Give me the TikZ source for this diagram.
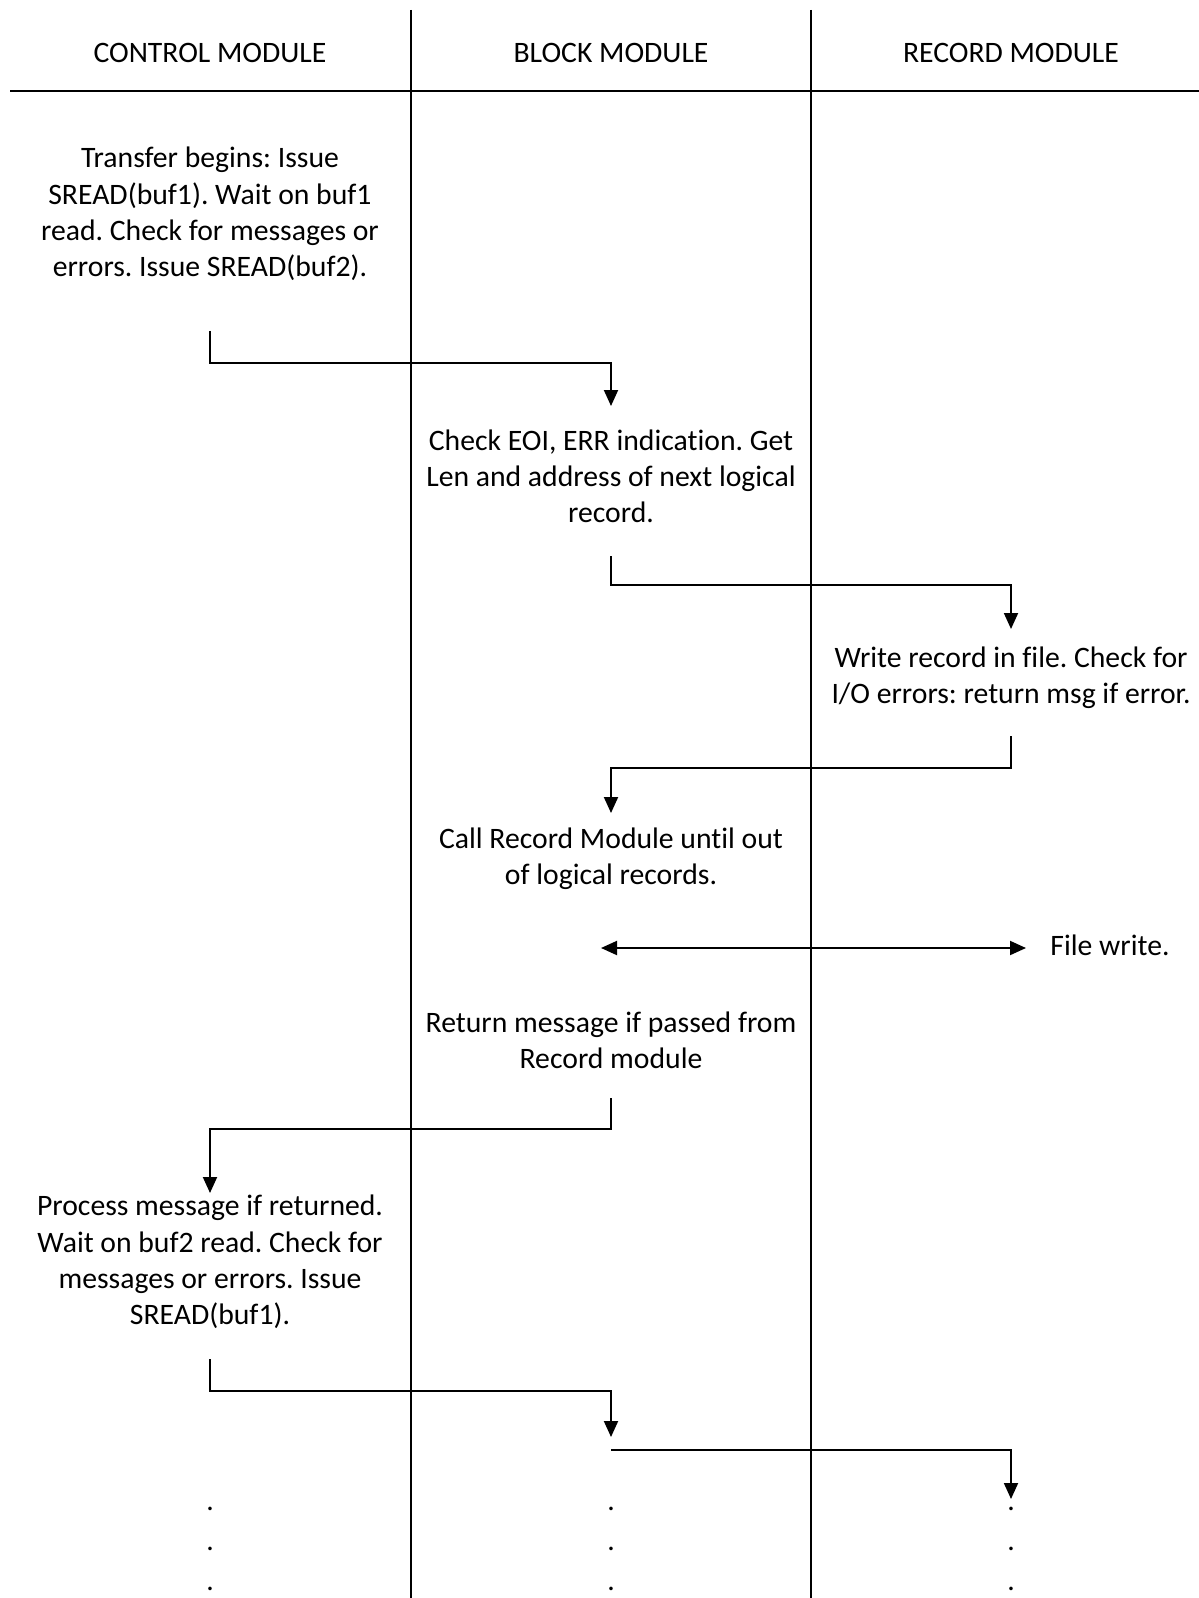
\documentclass[tikz,border=0pt]{standalone}
\usepackage{fontspec}
\setmainfont[Ligatures=NoCommon]{Carlito}
\usetikzlibrary{arrows.meta}
\frenchspacing
\tikzset{
	lane/.style={line width=0.8pt},
	flow/.style={line width=1.1pt, -{Triangle[length=0.32cm, width=0.28cm]}},
	both/.style={line width=1.1pt, {Triangle[length=0.32cm, width=0.28cm]}-{Triangle[length=0.32cm, width=0.28cm]}},
	txt/.style={align=center, inner sep=0pt, font=\fontsize{16.9}{20.6}\selectfont},
	dot/.style={inner sep=0pt, anchor=base, font=\fontsize{16.9}{20.6}\selectfont}
}

\begin{document}
\begin{tikzpicture}[x=0.02cm, y=-0.02cm]
			%%%%% START %%%%%
			\useasboundingbox (0, 0) rectangle (1199, 1598);
			
			% lanes
			\draw[lane] (411, 10) -- (411, 1598);
			\draw[lane] (811, 10) -- (811, 1598);
			\draw[line width=1.1pt] (10, 91) -- (1199, 91);
			
			\node[txt] (hctl) at (210, 53) {CONTROL MODULE};
			\node[txt] (hblk) at (611, 53) {BLOCK MODULE};
			\node[txt] (hrec) at (1011, 53) {RECORD MODULE};
			
			% steps
			\node[txt] (ctl1) at (210, 214) {Transfer begins: Issue\\SREAD(buf1). Wait on buf1\\read. Check for messages or\\errors. Issue SREAD(buf2).};
			\node[txt] (blk1) at (611, 476) {Check EOI, ERR indication. Get\\Len and address of next logical\\record.};
			\node[txt] (rec1) at (1011, 678) {Write record in file. Check for\\I/O errors: return msg if error.};
			\node[txt] (blk2) at (611, 859) {Call Record Module until out\\of logical records.};
			\node[txt] (wrt) at (1110, 945) {File write.};
			\node[txt] (blk3) at (611, 1040) {Return message if passed from\\Record module};
			\node[txt] (ctl2) at (210, 1262) {Process message if returned.\\Wait on buf2 read. Check for\\messages or errors. Issue\\SREAD(buf1).};
			
			% arrow ends
			\coordinate (ctl1out) at (210, 331);
			\coordinate (blk1in) at (611, 406);
			\coordinate (blk1out) at (611, 556);
			\coordinate (rec1in) at (1011, 629);
			\coordinate (rec1out) at (1011, 736);
			\coordinate (blk2in) at (611, 813);
			\coordinate (wl) at (601, 948);
			\coordinate (wr) at (1026, 948);
			\coordinate (blk3out) at (611, 1098);
			\coordinate (ctl2in) at (210, 1193);
			\coordinate (ctl2out) at (210, 1359);
			\coordinate (blk4in) at (611, 1437);
			\coordinate (blk4out) at (611, 1450);
			\coordinate (rec4in) at (1011, 1499);
			
			\draw[flow] (ctl1out) -- ++(0, 32) -| (blk1in);
			\draw[flow] (blk1out) -- ++(0, 29) -| (rec1in);
			\draw[flow] (rec1out) -- ++(0, 32) -| (blk2in);
			\draw[both] (wl) -- (wr);
			\draw[flow] (blk3out) -- ++(0, 31) -| (ctl2in);
			\draw[flow] (ctl2out) -- ++(0, 32) -| (blk4in);
			\draw[flow] (blk4out) -| (rec4in);
			
			% more to come
			\foreach \x in {210, 611, 1011}
				\foreach \y in {1510, 1550, 1590}
					\node[dot] at (\x, \y) {.};
			%%%%% END %%%%%
		\end{tikzpicture}
\end{document}
